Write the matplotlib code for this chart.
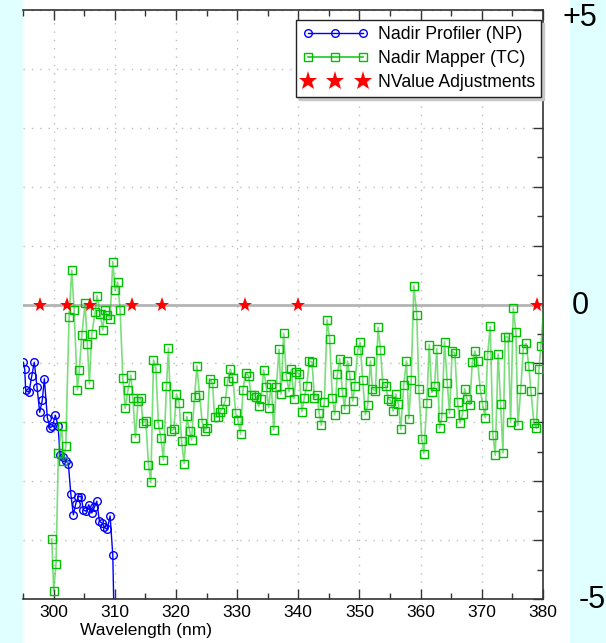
import matplotlib
matplotlib.use("Agg")
import matplotlib.pyplot as plt
from matplotlib.lines import Line2D
from matplotlib.patches import Rectangle
from matplotlib.ticker import MultipleLocator

plt.rcParams['font.family'] = ['Liberation Sans', 'DejaVu Sans']

# ---------------- data ----------------
np_wl = [295.05, 295.28, 295.44, 295.98, 296.42, 296.85, 297.29, 297.73, 298.16, 298.49,
         298.98, 299.42, 299.80, 300.29, 300.73, 301.06, 301.50, 301.99, 302.41, 302.81,
         303.23, 303.63, 304.05, 304.49, 304.87, 305.31, 305.75, 306.24, 306.67, 307.06,
         307.49, 307.93, 308.31, 308.75, 309.24, 309.68, 310.10]
np_val = [-0.98, -1.10, -1.46, -1.49, -1.22, -0.98, -1.40, -1.83, -1.62, -1.26,
          -1.92, -2.09, -2.07, -1.88, -2.06, -2.56, -2.59, -2.65, -2.70, -3.21,
          -3.57, -3.38, -3.26, -3.26, -3.49, -3.51, -3.40, -3.54, -3.44, -3.34,
          -3.68, -3.71, -3.78, -3.82, -3.59, -4.26, -6.50]

tc_wl = [299.70, 300.02, 300.40, 300.78, 301.33, 301.60, 301.99, 302.53, 302.97, 303.35,
         303.89, 304.21, 304.61, 305.15, 305.52, 305.85, 306.24, 306.78, 307.11, 307.60,
         308.04, 308.42, 308.80, 309.24, 309.68, 310.06, 310.47, 310.88, 311.32, 311.69,
         312.14, 312.63, 312.95, 313.38, 313.82, 314.26, 314.59, 315.08, 315.51, 315.90,
         316.33, 316.72, 317.14, 317.54, 317.96, 318.45, 318.78, 319.22, 319.66, 320.09,
         320.53, 320.91, 321.35, 321.79, 322.22, 322.55, 323.04, 323.43, 323.85, 324.30,
         324.67, 325.11, 325.49, 325.98, 326.31, 326.87, 327.13, 327.57, 328.06, 328.44,
         328.88, 329.32, 329.75, 330.14, 330.56, 330.96, 331.38, 331.87, 332.27, 332.69,
         333.09, 333.51, 333.90, 334.33, 334.77, 335.15, 335.59, 335.97, 336.41, 336.85,
         337.18, 337.60, 338.04, 338.49, 338.86, 339.30, 339.68, 340.17, 340.58, 340.99,
         341.37, 341.81, 342.25, 342.63, 343.07, 343.40, 343.77, 344.26, 344.71, 345.13,
         345.57, 345.95, 346.39, 346.77, 347.21, 347.59, 348.03, 348.40, 348.90, 349.22,
         349.71, 350.11, 350.53, 350.97, 351.35, 351.79, 352.12, 352.61, 353.05, 353.43,
         353.81, 354.30, 354.69, 355.11, 355.51, 355.93, 356.37, 356.75, 357.24, 357.68,
         358.06, 358.45, 358.88, 359.37, 359.70, 360.19, 360.52, 361.01, 361.40, 361.82,
         362.27, 362.64, 363.09, 363.46, 363.90, 364.35, 364.72, 365.16, 365.59, 366.03,
         366.41, 366.85, 367.18, 367.62, 368.04, 368.44, 368.86, 369.30, 369.75, 370.12,
         370.56, 370.94, 371.38, 371.81, 372.20, 372.66, 373.07, 373.45, 373.81, 374.30,
         374.71, 375.15, 375.57, 375.90, 376.37, 376.78, 377.21, 377.68, 378.03, 378.52,
         378.91, 379.34, 379.65, 381.00]
tc_val = [-3.98, -4.86, -4.40, -2.52, -2.07, -2.65, -2.41, -0.22, 0.58, -0.09,
          -1.45, -1.11, -0.52, 0.02, -0.67, -1.35, -0.50, -0.13, 0.15, -0.16,
          -0.43, -0.09, -0.18, -0.24, 0.73, 0.24, 0.38, -0.10, -1.25, -1.76,
          -1.46, -1.20, -1.58, -2.26, -1.63, -1.58, -2.01, -1.97, -2.72, -3.02,
          -0.94, -1.07, -2.03, -2.26, -2.64, -1.39, -0.74, -2.14, -2.12, -1.52,
          -1.67, -2.31, -2.70, -1.90, -2.14, -2.30, -1.57, -1.04, -1.53, -2.01,
          -2.14, -2.09, -1.26, -1.33, -1.91, -1.91, -1.83, -1.77, -1.64, -1.30,
          -1.10, -1.25, -1.84, -1.96, -2.20, -1.45, -1.16, -1.21, -1.54, -1.53,
          -1.57, -1.73, -1.60, -1.11, -1.40, -1.75, -1.35, -2.13, -1.40, -0.76,
          -1.52, -0.49, -1.21, -1.48, -1.10, -1.60, -1.14, -1.18, -1.82, -1.58,
          -1.39, -0.96, -0.98, -1.58, -1.53, -1.84, -2.05, -1.65, -0.26, -0.59,
          -1.58, -1.87, -1.18, -0.92, -1.48, -1.78, -0.96, -1.19, -1.64, -1.39,
          -0.77, -0.64, -1.29, -1.87, -1.70, -0.96, -1.43, -1.47, -0.39, -0.77,
          -1.34, -1.38, -1.60, -1.63, -1.81, -1.52, -1.69, -2.12, -1.36, -0.96,
          -1.94, -1.29, 0.32, -0.17, -1.43, -2.29, -2.53, -1.67, -0.68, -1.49,
          -1.39, -0.75, -2.10, -1.91, -0.63, -1.33, -1.85, -0.79, -0.83, -1.66,
          -2.01, -1.86, -1.43, -1.61, -1.70, -0.98, -0.79, -0.96, -1.44, -1.70,
          -1.92, -0.85, -0.37, -2.22, -2.56, -0.84, -1.69, -2.52, -0.55, -0.55,
          -2.00, -0.06, -0.46, -2.05, -1.44, -0.75, -0.66, -1.04, -1.47, -2.01,
          -2.10, -1.10, -0.71, 1.18]

adj_wl = [297.8, 302.2, 306.0, 312.8, 317.7, 331.3, 340.0, 379.0]
adj_val = [0, 0, 0, 0, 0, 0, 0, 0]

x_ticks = [300, 310, 320, 330, 340, 350, 360, 370, 380]
legend_labels = ["Nadir Profiler (NP)", "Nadir Mapper (TC)", "NValue Adjustments"]
side_labels = ["+5", "0", "-5"]

# ---------------- figure ----------------
W, H = 606, 643
fig = plt.figure(figsize=(W / 100, H / 100), dpi=100)
fig.patch.set_facecolor('#e0ffff')
fig.patches.append(Rectangle((23 / W, 0), (570 - 23) / W, 1, transform=fig.transFigure,
                             facecolor='white', edgecolor='none', zorder=-10))

ax = fig.add_axes([23 / W, 44 / H, 520 / W, 589 / H])
ax.set_facecolor('white')
ax.set_xlim(295, 380)
ax.set_ylim(-5, 5)

ax.set_xticks(x_ticks)
ax.xaxis.set_minor_locator(MultipleLocator(5))
ax.yaxis.set_major_locator(MultipleLocator(1))
ax.yaxis.set_minor_locator(MultipleLocator(0.5))

ax.grid(True, which='major', color='#bdbdbd', linestyle=(0, (1, 5)), linewidth=1)
ax.set_axisbelow(True)

ax.tick_params(which='both', direction='in', top=True, right=True, left=False,
               labelleft=False, color='#333333', labelsize=12.5, pad=4)
ax.tick_params(which='major', length=7, width=1)
ax.tick_params(which='minor', length=4, width=1)
for s in ['top', 'right', 'bottom']:
    ax.spines[s].set_color('#333333')
    ax.spines[s].set_linewidth(1.2)
ax.spines['left'].set_visible(False)

ax.axhline(0, color='#b4b4b4', linewidth=2, zorder=1.5)

# NP series
ax.plot(np_wl, np_val, color='#0000ff', linewidth=1, marker='o', markersize=5.5,
        markerfacecolor='none', markeredgecolor='#0000ff', markeredgewidth=1, zorder=3)

# TC series
ax.plot(tc_wl, tc_val, color='#22c822', alpha=0.6, linewidth=1.2, zorder=3)
ax.plot(tc_wl, tc_val, linestyle='none', marker='s', markersize=5.5,
        markerfacecolor='none', markeredgecolor='#00c000', markeredgewidth=1, zorder=3.5)

# Adjustments
ax.plot(adj_wl, adj_val, linestyle='none', marker='*', markersize=11,
        color='#ff0000', markeredgewidth=0, zorder=5)

handles = [
    Line2D([], [], color='#0000ff', linewidth=1, marker='o', markersize=5.5,
           markerfacecolor='none', markeredgecolor='#0000ff'),
    Line2D([], [], color='#22c822', linewidth=1.2, marker='s', markersize=5.5,
           markerfacecolor='none', markeredgecolor='#00c000'),
    Line2D([], [], linestyle='none', marker='*', markersize=14, color='#ff0000',
           markeredgewidth=0),
]
leg = ax.legend(handles, legend_labels, loc='upper right', bbox_to_anchor=(0.996, 0.983),
                borderaxespad=0, numpoints=3, handlelength=3.7, handletextpad=0.55,
                labelspacing=0.4, borderpad=0.35, fontsize=12.7, fancybox=False,
                shadow={'color': '#c8c8c8', 'alpha': 1}, framealpha=1, edgecolor='#222222')
leg.get_frame().set_linewidth(1)

fig.text(146 / W, 1 - 631 / H, "Wavelength (nm)", fontsize=12.5, ha='center', va='center')

fig.text(580 / W, 1 - 18 / H, side_labels[0], fontsize=22, ha='center', va='center')
fig.text(580 / W, 1 - 306 / H, side_labels[1], fontsize=22, ha='center', va='center')
fig.text(592 / W, 1 - 600 / H, side_labels[2], fontsize=22, ha='center', va='center')

fig.savefig("out.png", dpi=100, facecolor=fig.get_facecolor())
